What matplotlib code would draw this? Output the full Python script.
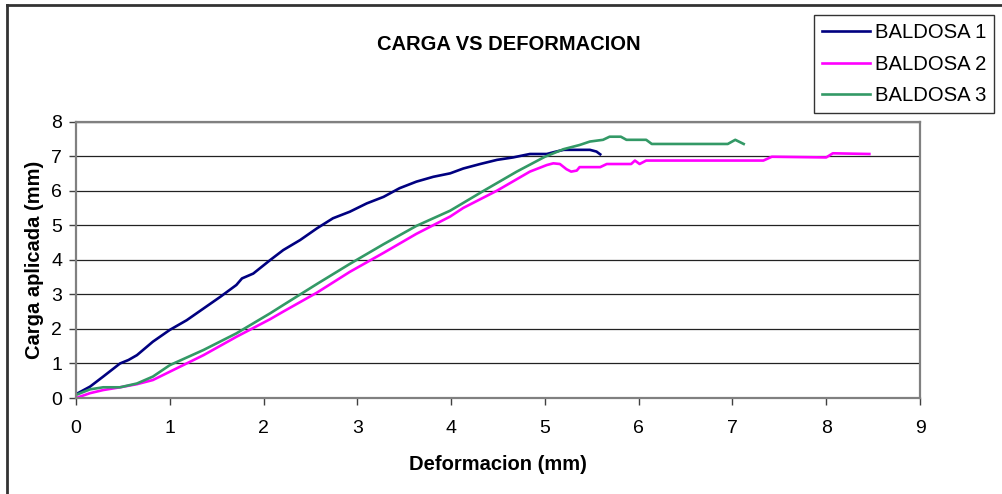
import matplotlib
matplotlib.use('Agg')
import matplotlib.pyplot as plt
from matplotlib.lines import Line2D

plt.rcParams['font.family'] = ['Liberation Sans', 'DejaVu Sans']

# BALDOSA 1
x1 = [0, 0.15, 0.29, 0.47, 0.56, 0.65, 0.82, 1.0, 1.18, 1.36, 1.54, 1.71, 1.77, 1.89,
      2.07, 2.21, 2.39, 2.57, 2.74, 2.92, 3.1, 3.28, 3.45, 3.63, 3.81, 3.99, 4.13, 4.31,
      4.49, 4.66, 4.84, 5.02, 5.12, 5.2, 5.48, 5.55, 5.59]
y1 = [0.11, 0.33, 0.62, 1.0, 1.1, 1.24, 1.63, 1.97, 2.25, 2.59, 2.93, 3.27, 3.46, 3.6,
      3.99, 4.28, 4.57, 4.91, 5.2, 5.39, 5.63, 5.82, 6.07, 6.26, 6.4, 6.5, 6.64, 6.77,
      6.89, 6.96, 7.06, 7.06, 7.13, 7.18, 7.18, 7.13, 7.05]

# BALDOSA 2
x2 = [0, 0.15, 0.29, 0.47, 0.65, 0.82, 1.0, 1.36, 1.71, 2.07, 2.21, 2.57, 2.92, 3.28,
      3.63, 3.99, 4.13, 4.49, 4.84, 5.02, 5.09, 5.16, 5.23, 5.28, 5.34, 5.37, 5.59, 5.66,
      5.92, 5.96, 6.01, 6.08, 7.33, 7.42, 8.0, 8.07, 8.46]
y2 = [0.0, 0.14, 0.23, 0.31, 0.4, 0.52, 0.76, 1.24, 1.77, 2.28, 2.5, 3.05, 3.65, 4.2,
      4.75, 5.25, 5.5, 6.0, 6.55, 6.74, 6.79, 6.77, 6.62, 6.55, 6.58, 6.68, 6.68, 6.77,
      6.77, 6.87, 6.77, 6.87, 6.87, 6.98, 6.96, 7.08, 7.06]

# BALDOSA 3
x3 = [0, 0.15, 0.29, 0.47, 0.65, 0.82, 1.0, 1.36, 1.71, 2.07, 2.21, 2.57, 2.92, 3.28,
      3.63, 3.99, 4.35, 4.7, 5.0, 5.2, 5.37, 5.48, 5.62, 5.69, 5.81, 5.87, 6.08, 6.14,
      6.95, 7.03, 7.12]
y3 = [0.09, 0.25, 0.31, 0.31, 0.42, 0.62, 0.95, 1.39, 1.87, 2.45, 2.69, 3.3, 3.88, 4.45,
      4.98, 5.42, 6.0, 6.55, 6.98, 7.2, 7.32, 7.42, 7.47, 7.56, 7.56, 7.47, 7.47, 7.35,
      7.35, 7.47, 7.35]

labels = ['BALDOSA 1', 'BALDOSA 2', 'BALDOSA 3']
colors = ['#000080', '#FF00FF', '#339966']

fig = plt.figure(figsize=(10.02, 4.94), dpi=100)
ax = fig.add_axes([76 / 1002, 1 - 398 / 494, (920 - 76) / 1002, (398 - 121.5) / 494])

for xs, ys, lab, c in zip([x1, x2, x3], [y1, y2, y3], labels, colors):
    ax.plot(xs, ys, color=c, lw=1.9, label=lab, solid_joinstyle='round')

ax.set_xlim(0, 9)
ax.set_ylim(0, 8)
ax.set_xticks(range(0, 10))
ax.set_yticks(range(0, 9))
ax.grid(axis='y', color='#222222', lw=0.9)
ax.set_axisbelow(True)
for s in ax.spines.values():
    s.set_color('#808080')
    s.set_linewidth(1.6)
ax.tick_params(direction='out', length=5, width=1, color='#404040',
               labelsize=14, pad=5)
ax.tick_params(axis='x', pad=11)

ax.set_xlabel('Deformacion (mm)', fontsize=14.5, fontweight='bold', labelpad=13)
ax.set_ylabel('Carga aplicada (mm)', fontsize=14.5, fontweight='bold', labelpad=5)

fig.text(509 / 1002, 1 - 44 / 494, 'CARGA VS DEFORMACION', fontsize=14.5,
         fontweight='bold', ha='center', va='center')

leg = fig.legend(loc='upper right', bbox_to_anchor=(994 / 1002, 1 - 15 / 494),
                 fontsize=14.6, frameon=True, fancybox=False, handlelength=2.4,
                 handletextpad=0.2, labelspacing=0.62, borderpad=0.4,
                 borderaxespad=0)
leg.get_frame().set_edgecolor('black')
leg.get_frame().set_linewidth(1.0)

# outer chart border (left and top only visible)
fig.add_artist(Line2D([6.5 / 1002, 6.5 / 1002], [0, 1 - 5 / 494], color='#333333', lw=2,
                      transform=fig.transFigure))
fig.add_artist(Line2D([6.5 / 1002, 1], [1 - 5 / 494, 1 - 5 / 494], color='#333333', lw=2,
                      transform=fig.transFigure))

fig.savefig('out.png', dpi=100)
